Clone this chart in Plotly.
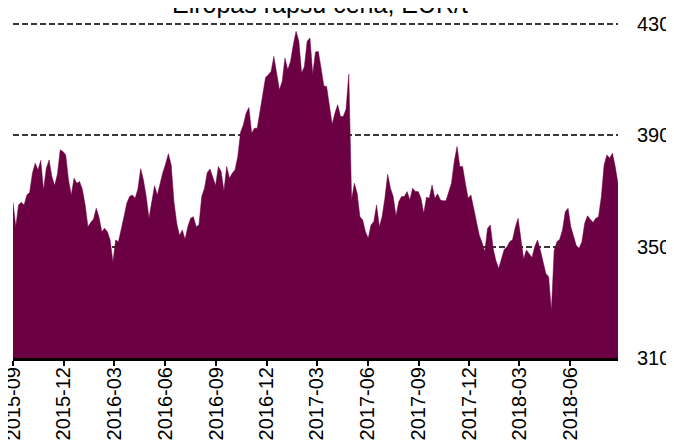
import pandas as pd
import plotly.graph_objects as go

TITLE = "Eiropas rapšu cena, EUR/t"
START_DATE = "2015-09-01"
STEP = "5D"

price = [
    366, 357.2, 365, 366, 365, 368.6, 369.5, 376.4, 380, 377.6,
    381, 370.4, 378.2, 381.2, 375.2, 372, 376, 384.8, 384.2, 383,
    374, 368.6, 374.6, 372.8, 373.4, 370.6, 365, 357.2, 358.7, 359.9,
    363.8, 360.6, 355.4, 356.6, 355.4, 352.4, 344.5,
    352.4, 351.8, 356, 360.8, 365.6, 368, 368.6, 367.4, 370.7, 378,
    374, 368, 360.2, 365.6, 371.9, 368.6, 372.8, 376.7, 379.8, 383.4,
    379.4, 366.2, 358.4, 354, 356, 352.7, 357.2, 360.2, 360.8, 357.2,
    357.8, 368, 371, 376.7, 377.9, 374.6,
    372, 378.8, 377, 370, 378.8, 374.6, 376.4, 377.6, 382.4, 391.1,
    393.8, 398, 400, 390.8, 392.6, 392.6, 399.2, 404.6, 410.8, 411.8,
    413, 418.4, 412.4, 406.4, 409.4, 417.8, 413.6, 416.6, 422.6, 427.4,
    423.8, 412.4, 414.8, 423.8, 425, 412, 420,
    420.2, 414.2, 407.8, 407.6, 400, 394, 398, 401, 396.8, 396.8,
    399.4, 412, 366.8, 372.8, 369.2, 360.8, 359.6, 355.4, 353, 357.8,
    359, 365, 357.2, 360.8, 367.4, 376, 371, 368, 361, 366.2,
    368, 368, 369.8, 366.8, 371, 369.8,
    369.8, 367.4, 362, 367.8, 367.4, 372.2, 367.4, 369, 366.8, 366.5,
    366.5, 369.8, 372.8, 380.6, 386, 378.8, 378.8, 372.8, 367.4, 368.6,
    363.8, 359.4, 354.2, 351.5, 348.2, 356.6, 357.8, 349.4, 345, 342.2,
    345.8, 349, 350, 351.8, 352.5, 357,
    360.2, 353.6, 345.6, 348.8, 347.4, 346.1, 350, 352.4, 348.8, 344.9,
    340.4, 339.2, 327, 348.6, 351.8, 352.7, 356, 362.6, 363.8, 357.2,
    353.4, 350.3, 349.4, 351.8, 358.4, 361.1, 359.9, 358.7, 360.2, 360.8,
    368, 379.4, 383, 381.8, 383.6, 378.8, 372.6,
]

tick_labels = ["2015-09", "2015-12", "2016-03", "2016-06", "2016-09", "2016-12",
               "2017-03", "2017-06", "2017-09", "2017-12", "2018-03", "2018-06"]
y_ticks = [310, 350, 390, 430]

dates = pd.date_range(START_DATE, periods=len(price), freq=STEP)
tick_vals = [t + "-01" for t in tick_labels]

FILL = "#6B0042"
FONT = "Liberation Sans, Arial, sans-serif"

fig = go.Figure()
fig.add_trace(go.Scatter(
    x=dates, y=price, mode="lines", fill="tozeroy",
    fillcolor=FILL, line=dict(color=FILL, width=0.5),
    hoverinfo="skip", showlegend=False,
))

fig.update_layout(
    width=674, height=448,
    margin=dict(l=5, r=64, t=15, b=98),
    paper_bgcolor="white", plot_bgcolor="white",
    font=dict(family=FONT, color="black"),
    annotations=[dict(
        text=TITLE, xref="paper", yref="paper", x=0.507, y=1,
        xanchor="center", yanchor="middle", yshift=19.5, showarrow=False,
        font=dict(size=25, family=FONT, color="black"),
    )],
)
fig.update_xaxes(
    range=[dates[0], dates[-1]], automargin=False,
    tickmode="array", tickvals=tick_vals, ticktext=tick_labels,
    tickangle=-90, tickfont=dict(size=20, family=FONT, color="black"),
    ticklabeloverflow="allow", ticklabelstandoff=-7,
    ticks="outside", ticklen=5, tickwidth=2, tickcolor="black",
    showline=True, linecolor="black", linewidth=3,
    showgrid=False, zeroline=False,
)
fig.update_yaxes(
    range=[310, 430.4], side="right", automargin=False,
    tickmode="array", tickvals=y_ticks,
    tickfont=dict(size=20, family=FONT, color="black"),
    ticklabeloverflow="allow",
    ticks="", ticklabelstandoff=18,
    showgrid=True, gridcolor="#383838", gridwidth=1.8, griddash="6px,3px",
    showline=False, zeroline=False,
)

fig.write_html("out.html")
